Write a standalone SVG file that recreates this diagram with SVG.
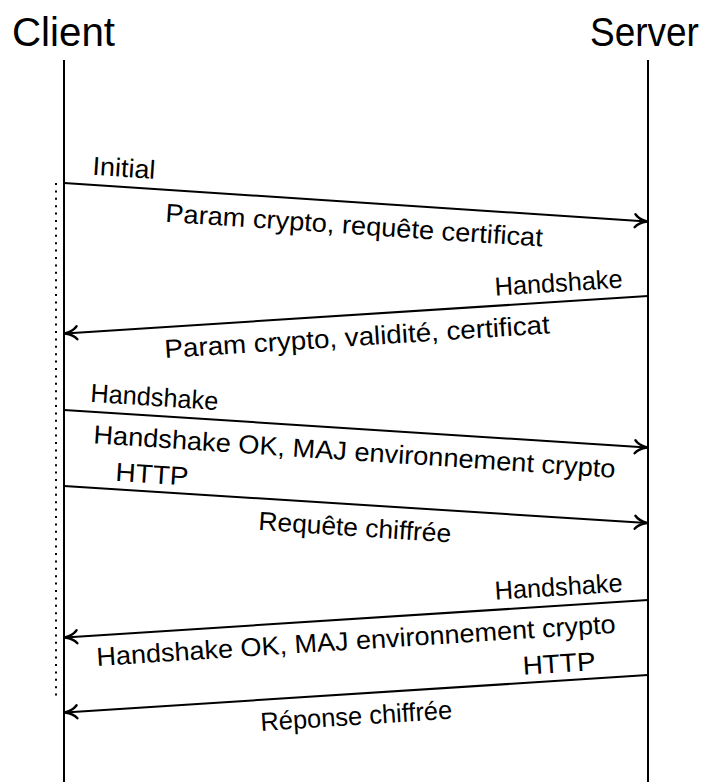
<svg xmlns="http://www.w3.org/2000/svg" width="705" height="782" viewBox="0 0 705 782">
  <style>
    .title { font-family: "Liberation Sans", Arial, sans-serif; font-size: 41px; fill: #000; }
    .title-s { font-family: "Liberation Sans", Arial, sans-serif; font-size: 37px; fill: #000; }
    .lbl { font-family: "Liberation Sans", Arial, sans-serif; font-size: 26px; fill: #000; }
    .life { stroke: #000; stroke-width: 2; fill: none; }
    .msg { stroke: #000; stroke-width: 2; fill: none; marker-end: url(#tip); }
    .dots { stroke: #000; stroke-width: 2; stroke-dasharray: 2 5.4; fill: none; }
  </style>
  <defs>
    <marker id="tip" markerUnits="userSpaceOnUse" markerWidth="18" markerHeight="18" refX="14" refY="9" orient="auto" overflow="visible">
      <path d="M 2,2.5 C 5,6.5 10.5,8.2 14,9 C 10.5,9.8 5,11.5 2,15.5" stroke="#000" stroke-width="2.4" fill="none" stroke-linecap="round"/>
    </marker>
  </defs>

  <rect width="705" height="782" fill="#fff"/>

  <!-- participants -->
  <g id="client">
    <text class="title" x="12" y="46" textLength="103" lengthAdjust="spacingAndGlyphs">Client</text>
    <line class="life" x1="64" y1="60" x2="64" y2="782"/>
  </g>
  <g id="server">
    <text class="title-s" transform="translate(590,46) scale(1,1.1)">Server</text>
    <line class="life" x1="648" y1="60" x2="648" y2="782"/>
  </g>

  <!-- span of the exchange on the client side -->
  <g id="session">
    <line class="dots" x1="56" y1="183" x2="56" y2="699"/>
  </g>

  <!-- messages -->
  <g id="connectors">
    <line class="msg" x1="64" y1="183" x2="647" y2="221.5"/>
    <line class="msg" x1="648" y1="296" x2="65" y2="333.5"/>
    <line class="msg" x1="64" y1="410" x2="647" y2="447.5"/>
    <line class="msg" x1="64" y1="486" x2="647" y2="523"/>
    <line class="msg" x1="648" y1="600" x2="65" y2="637.5"/>
    <line class="msg" x1="648" y1="675" x2="65" y2="712.5"/>
  </g>

  <!-- labels -->
  <g id="m1-labels">
    <text class="lbl" transform="translate(92,174.8) rotate(3.77)" textLength="63" lengthAdjust="spacingAndGlyphs">Initial</text>
    <text class="lbl" transform="translate(165,221.7) rotate(3.77)" textLength="378" lengthAdjust="spacingAndGlyphs">Param crypto, requête certificat</text>
  </g>
  <g id="m2-labels">
    <text class="lbl" text-anchor="end" transform="translate(623,287.6) rotate(-3.67)" textLength="128" lengthAdjust="spacingAndGlyphs">Handshake</text>
    <text class="lbl" transform="translate(165,358) rotate(-3.67)" textLength="386" lengthAdjust="spacingAndGlyphs">Param crypto, validité, certificat</text>
  </g>
  <g id="m3-labels">
    <text class="lbl" transform="translate(90,401.7) rotate(3.77)" textLength="128" lengthAdjust="spacingAndGlyphs">Handshake</text>
    <text class="lbl" transform="translate(93,443.3) rotate(3.77)" textLength="523" lengthAdjust="spacingAndGlyphs">Handshake OK, MAJ environnement crypto</text>
    <text class="lbl" transform="translate(115,480.7) rotate(3.77)" textLength="73" lengthAdjust="spacingAndGlyphs">HTTP</text>
  </g>
  <g id="m4-labels">
    <text class="lbl" transform="translate(258,529.8) rotate(3.77)" textLength="193" lengthAdjust="spacingAndGlyphs">Requête chiffrée</text>
  </g>
  <g id="m5-labels">
    <text class="lbl" text-anchor="end" transform="translate(623,591.6) rotate(-3.67)" textLength="128" lengthAdjust="spacingAndGlyphs">Handshake</text>
    <text class="lbl" transform="translate(97,666) rotate(-3.67)" textLength="520" lengthAdjust="spacingAndGlyphs">Handshake OK, MAJ environnement crypto</text>
    <text class="lbl" text-anchor="end" transform="translate(596,670) rotate(-3.67)" textLength="73" lengthAdjust="spacingAndGlyphs">HTTP</text>
  </g>
  <g id="m6-labels">
    <text class="lbl" transform="translate(261,731) rotate(-3.67)" textLength="192" lengthAdjust="spacingAndGlyphs">Réponse chiffrée</text>
  </g>
</svg>
